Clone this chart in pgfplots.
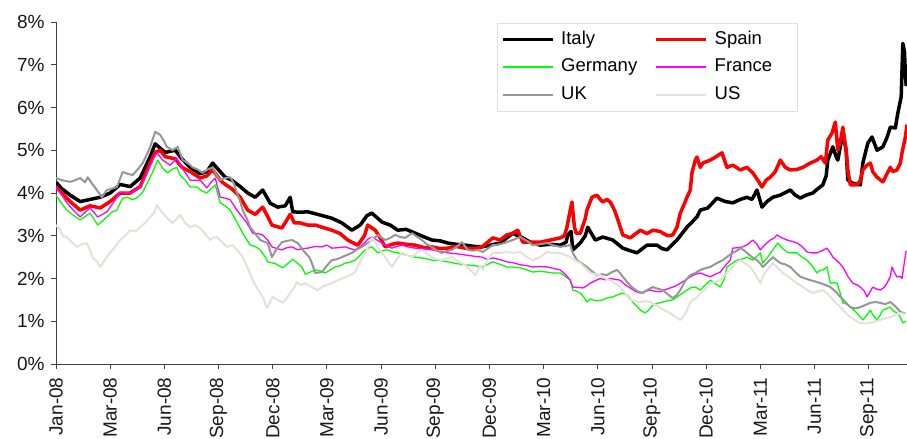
\documentclass[border=0pt]{standalone}
\usepackage{pgfplots}
\pgfplotsset{compat=1.18}
\usepackage{pgfplotstable}
\usepackage{fontspec}
\setmainfont{Liberation Sans}
\definecolor{ukgray}{RGB}{150,150,150}
\definecolor{usgray}{RGB}{228,224,220}
\definecolor{dgreen}{RGB}{0,255,0}
\definecolor{dmagenta}{RGB}{255,0,255}
\definecolor{dred}{RGB}{255,0,0}

\pgfplotstableread{
d v
0 4.25
7 4.1
17 3.95
29 3.8
41 3.85
53 3.9
65 4.0
77 4.2
89 4.15
101 4.35
113 4.85
119 5.15
125 5.05
131 4.95
143 5.0
151 4.8
161 4.6
173 4.45
181 4.5
188 4.7
197 4.5
203 4.37
211 4.3
221 4.15
230 4.0
239 3.9
248 4.07
257 3.76
266 3.67
275 3.7
281 3.9
284 3.56
293 3.55
302 3.56
314 3.5
331 3.41
343 3.3
355 3.13
365 3.25
373 3.47
379 3.53
391 3.32
401 3.25
410 3.13
420 3.15
431 3.06
442 2.97
451 2.9
461 2.88
470 2.83
480 2.8
491 2.78
502 2.75
511 2.74
521 2.78
533 2.83
541 2.95
548 3.06
554 3.0
560 2.95
569 2.85
581 2.78
593 2.8
605 2.78
612 2.85
614 3.02
618 3.1
620 2.67
629 2.83
635 3.0
638 3.2
647 2.9
656 2.97
668 2.9
680 2.71
689 2.65
697 2.6
709 2.78
721 2.78
727 2.7
733 2.67
745 2.9
757 3.2
769 3.44
773 3.6
782 3.65
793 3.88
803 3.8
812 3.77
821 3.85
829 3.9
835 3.85
841 4.07
847 3.67
853 3.8
860 3.9
869 3.95
881 4.07
887 3.95
893 3.88
900 3.95
908 4.0
914 4.1
920 4.19
924 4.4
926 4.77
932 5.08
936 4.85
938 4.77
944 5.4
948 5.0
950 4.3
956 4.23
965 4.19
968 4.7
974 5.17
979 5.31
985 5.0
992 5.08
997 5.3
1001 5.54
1007 5.52
1010 5.87
1014 6.25
1016 7.5
1018 7.3
1019 6.8
1020 6.5
}\italy

\pgfplotstableread{
d v
0 4.14
7 4.0
17 3.8
29 3.6
41 3.7
53 3.65
65 3.8
77 4.0
89 4.0
101 4.15
113 4.7
119 4.95
125 5.0
131 4.85
143 4.8
151 4.6
161 4.5
173 4.35
181 4.4
188 4.55
197 4.3
203 4.2
211 4.1
221 3.9
230 3.6
239 3.5
248 3.67
254 3.45
259 3.25
271 3.18
281 3.5
286 3.3
293 3.3
302 3.25
311 3.25
319 3.2
331 3.13
341 3.05
350 2.9
362 2.78
370 3.0
374 3.25
383 3.13
389 2.95
395 2.74
403 2.8
410 2.83
420 2.8
431 2.78
442 2.72
451 2.74
461 2.7
470 2.71
480 2.75
491 2.71
502 2.7
511 2.74
518 2.85
524 2.95
533 2.9
541 3.02
547 3.05
554 3.13
560 2.85
569 2.85
581 2.85
593 2.9
605 2.95
610 3.0
613 3.2
617 3.6
619 3.79
622 3.2
624 3.06
629 3.06
635 3.4
637 3.6
643 3.9
649 3.95
653 3.85
656 3.79
661 3.85
665 3.79
670 3.6
673 3.44
677 3.2
680 3.02
689 2.95
701 3.13
709 3.05
716 3.13
725 3.1
728 3.06
734 3.0
740 3.02
745 3.2
749 3.53
754 3.75
757 3.9
761 4.07
763 4.47
767 4.77
769 4.84
773 4.6
776 4.7
785 4.77
792 4.85
799 4.94
805 4.6
812 4.65
821 4.54
829 4.6
836 4.47
842 4.3
847 4.14
852 4.3
857 4.37
863 4.5
869 4.77
875 4.6
881 4.54
889 4.55
896 4.6
905 4.7
913 4.77
918 4.85
923 4.7
926 5.24
931 5.4
935 5.66
938 5.0
942 5.3
944 5.54
948 5.0
950 4.54
953 4.19
961 4.19
965 4.3
968 4.54
973 4.65
977 4.7
980 4.5
985 4.37
992 4.26
997 4.45
1001 4.6
1004 4.5
1009 4.54
1013 4.7
1015 4.94
1019 5.3
1021 5.6
}\spain

\pgfplotstableread{
d v
0 3.95
7 3.75
13 3.6
23 3.45
29 3.37
35 3.45
41 3.53
50 3.25
56 3.35
61 3.44
67 3.55
73 3.6
80 3.88
86 3.9
92 3.84
98 3.9
104 4.02
110 4.25
116 4.49
122 4.77
128 4.58
134 4.47
139 4.55
145 4.6
149 4.42
155 4.3
161 4.14
169 4.14
175 4.05
181 4.0
186 4.1
191 4.19
197 3.77
203 3.7
209 3.6
217 3.32
224 3.06
233 2.78
239 2.75
245 2.67
251 2.5
254 2.39
263 2.35
272 2.25
278 2.35
284 2.45
290 2.35
295 2.27
299 2.1
305 2.15
311 2.2
317 2.18
323 2.13
329 2.2
335 2.27
341 2.3
347 2.36
353 2.38
359 2.43
365 2.55
371 2.67
376 2.72
379 2.74
386 2.6
392 2.65
398 2.67
404 2.62
410 2.6
420 2.55
431 2.5
442 2.47
451 2.43
461 2.42
470 2.39
480 2.35
491 2.32
502 2.3
511 2.27
518 2.33
524 2.39
533 2.33
541 2.27
548 2.27
557 2.25
565 2.2
572 2.15
581 2.17
589 2.15
596 2.13
605 2.13
611 2.05
617 1.96
620 1.73
625 1.7
629 1.66
634 1.55
637 1.45
641 1.52
644 1.5
650 1.48
656 1.5
662 1.55
668 1.57
674 1.62
680 1.66
686 1.6
692 1.45
697 1.35
701 1.26
706 1.2
709 1.22
713 1.3
716 1.38
722 1.42
728 1.45
734 1.48
740 1.5
746 1.58
752 1.66
761 1.78
767 1.8
773 1.73
779 1.85
785 1.96
791 1.88
797 1.8
802 2.0
805 2.27
811 2.35
817 2.43
823 2.45
829 2.5
836 2.43
841 2.52
845 2.6
848 2.36
854 2.5
860 2.67
866 2.83
872 2.7
877 2.62
883 2.6
889 2.6
895 2.5
901 2.43
907 2.3
913 2.13
917 2.2
920 2.2
925 2.27
929 1.89
934 1.9
937 1.89
941 1.65
944 1.43
949 1.4
953 1.33
956 1.28
961 1.19
965 1.1
968 1.03
973 1.15
977 1.26
980 1.15
985 1.03
989 1.15
992 1.26
997 1.3
1001 1.33
1004 1.25
1009 1.19
1013 1.1
1016 0.96
1020 1.0
}\germany

\pgfplotstableread{
d v
0 4.12
7 3.95
13 3.77
23 3.55
29 3.44
35 3.55
41 3.65
50 3.44
56 3.5
61 3.56
68 3.75
77 4.02
85 4.0
92 4.02
98 4.1
104 4.23
110 4.5
116 4.77
121 4.94
128 4.77
137 4.65
145 4.82
151 4.58
156 4.45
161 4.3
173 4.3
181 4.12
186 4.25
191 4.35
197 3.9
203 3.88
209 3.84
217 3.6
223 3.45
229 3.3
236 3.06
242 3.05
248 3.02
254 2.9
259 2.74
265 2.7
271 2.67
277 2.72
283 2.74
290 2.67
296 2.7
302 2.71
311 2.75
319 2.74
325 2.78
331 2.71
338 2.72
347 2.74
353 2.7
359 2.67
365 2.75
371 2.85
374 2.92
379 2.97
385 2.9
391 2.83
397 2.76
403 2.71
409 2.75
415 2.78
422 2.74
431 2.71
442 2.69
451 2.67
461 2.63
470 2.6
480 2.58
491 2.55
502 2.52
511 2.5
517 2.45
524 2.48
533 2.44
541 2.39
548 2.37
557 2.32
565 2.3
572 2.27
581 2.28
589 2.27
596 2.24
605 2.2
611 2.1
617 1.96
620 1.8
626 1.79
632 1.78
637 1.83
641 1.89
647 1.95
653 2.0
659 1.97
665 2.0
671 1.98
677 1.96
683 1.85
689 1.78
695 1.7
701 1.66
707 1.7
713 1.73
719 1.7
725 1.69
731 1.74
737 1.78
743 1.82
749 1.89
755 1.96
761 2.04
767 2.1
773 2.13
779 2.08
785 2.04
791 2.1
797 2.15
803 2.3
809 2.43
812 2.71
818 2.72
824 2.74
830 2.8
836 2.9
841 2.8
845 2.67
851 2.8
857 2.9
862 2.95
865 3.02
871 2.95
877 2.9
883 2.87
889 2.83
895 2.75
901 2.62
907 2.6
913 2.6
919 2.65
925 2.71
929 2.6
932 2.5
938 2.4
944 2.27
950 2.05
956 1.89
961 1.85
965 1.8
970 1.7
973 1.57
977 1.7
980 1.8
985 1.75
989 1.73
994 1.8
997 1.89
1001 2.05
1003 2.27
1007 2.1
1009 2.04
1013 2.05
1015 2.0
1018 2.4
1020 2.65
}\france

\pgfplotstableread{
d v
0 4.35
7 4.3
17 4.26
23 4.3
29 4.35
35 4.25
38 4.37
44 4.2
49 4.07
55 3.9
61 4.07
67 4.1
73 4.14
80 4.49
86 4.45
92 4.42
98 4.55
104 4.7
109 4.9
113 5.08
119 5.43
125 5.36
130 5.2
133 5.08
140 5.0
146 5.08
152 4.77
158 4.7
164 4.6
170 4.55
176 4.47
182 4.55
188 4.6
193 4.4
197 4.3
203 4.35
209 4.37
214 4.2
217 4.0
221 3.8
224 3.6
229 3.4
233 3.2
239 3.05
245 2.9
251 2.85
254 2.83
259 2.5
265 2.7
271 2.85
277 2.88
283 2.9
290 2.83
295 2.7
299 2.6
304 2.5
307 2.36
311 2.13
319 2.15
325 2.3
331 2.43
337 2.45
343 2.5
349 2.55
355 2.6
361 2.68
367 2.74
373 2.82
379 2.9
386 3.02
395 2.9
401 2.95
407 3.02
413 2.97
419 2.95
427 3.06
433 2.98
439 2.9
445 2.8
451 2.74
457 2.65
463 2.6
469 2.64
475 2.67
481 2.75
487 2.85
491 2.75
494 2.67
500 2.65
506 2.67
512 2.62
518 2.7
524 2.78
533 2.8
541 2.85
548 2.9
557 2.97
565 2.88
572 2.78
581 2.8
589 2.83
596 2.78
605 2.74
611 2.76
617 2.78
620 2.6
625 2.43
631 2.35
637 2.27
643 2.17
649 2.08
655 2.1
661 2.08
667 2.15
673 2.2
677 2.12
680 2.04
686 1.9
692 1.78
698 1.7
704 1.66
710 1.74
716 1.8
722 1.76
728 1.73
734 1.63
740 1.54
745 1.62
749 1.73
755 1.95
761 2.08
767 2.13
773 2.2
779 2.24
785 2.27
792 2.35
800 2.43
806 2.52
812 2.6
817 2.65
821 2.71
826 2.65
829 2.6
835 2.5
841 2.43
845 2.35
848 2.27
854 2.38
860 2.5
865 2.42
869 2.36
875 2.33
881 2.27
887 2.15
893 2.04
899 2.0
905 1.96
911 1.93
917 1.89
923 1.85
929 1.8
935 1.7
941 1.57
947 1.45
953 1.33
959 1.3
965 1.33
971 1.38
977 1.43
983 1.45
989 1.43
995 1.4
1001 1.45
1007 1.35
1013 1.22
1019 1.18
}\uk

\pgfplotstableread{
d v
0 3.25
5 3.15
8 3.0
13 2.97
19 2.85
25 2.74
31 2.8
37 2.83
41 2.65
44 2.48
49 2.4
53 2.27
59 2.45
65 2.6
71 2.75
77 2.9
83 3.0
89 3.13
95 3.1
101 3.2
107 3.3
113 3.44
118 3.55
121 3.72
125 3.6
128 3.53
134 3.4
140 3.3
145 3.4
149 3.49
155 3.3
161 3.2
167 3.25
173 3.18
179 3.05
185 2.9
188 2.95
193 2.97
199 2.85
205 2.74
212 2.78
218 2.65
224 2.5
230 2.25
236 1.96
242 1.75
248 1.57
253 1.31
257 1.45
260 1.57
266 1.5
272 1.43
277 1.55
281 1.66
286 1.8
289 1.92
293 1.85
299 1.89
305 1.82
311 1.75
314 1.73
319 1.8
325 1.85
331 1.89
337 1.95
343 2.0
349 2.05
355 2.1
359 2.15
365 2.4
371 2.6
376 2.8
379 2.95
383 2.85
386 2.74
391 2.6
395 2.5
400 2.35
403 2.27
409 2.45
415 2.6
421 2.55
427 2.5
433 2.6
439 2.67
445 2.58
451 2.5
457 2.45
463 2.43
469 2.47
475 2.5
482 2.4
491 2.32
497 2.2
503 2.08
509 2.3
512 2.2
518 2.45
524 2.6
533 2.6
541 2.62
548 2.6
557 2.62
565 2.5
572 2.43
581 2.5
589 2.62
596 2.6
605 2.6
611 2.55
617 2.5
623 2.42
629 2.36
635 2.25
641 2.13
647 2.1
653 2.08
659 2.0
665 1.96
671 1.88
677 1.8
683 1.65
689 1.5
695 1.47
701 1.45
707 1.47
713 1.45
719 1.38
725 1.31
731 1.25
737 1.19
743 1.1
749 1.03
754 1.15
757 1.26
761 1.45
764 1.5
769 1.55
773 1.66
779 1.75
785 1.89
791 1.92
797 1.96
803 2.1
809 2.2
815 2.35
821 2.43
827 2.35
833 2.27
839 2.1
845 1.89
848 2.05
853 2.2
860 2.36
866 2.25
872 2.13
878 2.05
884 1.96
890 1.88
896 1.8
902 1.72
908 1.66
914 1.7
920 1.73
925 1.65
929 1.57
935 1.45
941 1.33
947 1.2
953 1.1
959 1.02
965 0.96
971 0.95
977 0.96
983 1.0
989 1.03
995 1.07
1001 1.1
1007 1.15
1013 1.19
1019 1.17
}\us

\begin{document}
\begin{tikzpicture}
\begin{axis}[
  at={(0,0)}, anchor=south west,
  scale only axis, width=851bp, height=342bp,
  xmin=0, xmax=1021, ymin=0, ymax=8,
  axis x line*=bottom, axis y line*=left,
  axis line style={black!75, line width=0.8bp, -},
  tick align=outside, major tick length=5bp,
  tick style={black!75, line width=0.8bp},
  xtick={0,65,130,195,260,325,390,455,520,585,650,715,780,845,910,975},
  xticklabels={Jan-08,Mar-08,Jun-08,Sep-08,Dec-08,Mar-09,Jun-09,Sep-09,Dec-09,Mar-10,Jun-10,Sep-10,Dec-10,Mar-11,Jun-11,Sep-11},
  ytick={0,1,2,3,4,5,6,7,8},
  yticklabels={0\%,1\%,2\%,3\%,4\%,5\%,6\%,7\%,8\%},
  tick label style={font=\fontsize{19bp}{21bp}\selectfont, text=black!90},
  xticklabel style={rotate=90, anchor=east},
  yticklabel style={anchor=east},
  xticklabel shift=5bp,
  yticklabel shift=3bp,
  legend columns=2,
  legend cell align=left,
  legend style={at={(0.518,0.997)}, anchor=north west, draw=black!12, line width=0.75bp,
    inner xsep=4bp, inner ysep=6bp,
    font=\fontsize{18.5bp}{20bp}\selectfont, row sep=7bp,
    nodes={inner sep=1.5bp, text width=77bp, text height=13.5bp, text depth=4bp},
    /tikz/every odd column/.append style={column sep=5bp},
    /tikz/every even column/.append style={column sep=15bp}},
  line join=round,
]
\addlegendimage{legend image code/.code={\draw[black, line width=3.5bp] (0bp,0bp) -- (50bp,0bp);}}
\addlegendentry{Italy}
\addlegendimage{legend image code/.code={\draw[dred, line width=3.5bp] (0bp,0bp) -- (50bp,0bp);}}
\addlegendentry{Spain}
\addlegendimage{legend image code/.code={\draw[dgreen, line width=1.8bp] (0bp,0bp) -- (50bp,0bp);}}
\addlegendentry{Germany}
\addlegendimage{legend image code/.code={\draw[dmagenta, line width=1.8bp] (0bp,0bp) -- (50bp,0bp);}}
\addlegendentry{France}
\addlegendimage{legend image code/.code={\draw[ukgray, line width=2bp] (0bp,0bp) -- (50bp,0bp);}}
\addlegendentry{UK}
\addlegendimage{legend image code/.code={\draw[usgray, line width=2bp] (0bp,0bp) -- (50bp,0bp);}}
\addlegendentry{US}
\addplot[black, line width=3.5bp, forget plot] table[x=d,y=v] {\italy};
\addplot[dred, line width=3.5bp, forget plot] table[x=d,y=v] {\spain};
\addplot[dgreen, line width=1.3bp, forget plot] table[x=d,y=v] {\germany};
\addplot[dmagenta, line width=1.3bp, forget plot] table[x=d,y=v] {\france};
\addplot[ukgray, line width=2bp, forget plot] table[x=d,y=v] {\uk};
\addplot[usgray, line width=2bp, forget plot] table[x=d,y=v] {\us};
\end{axis}
\pgfresetboundingbox
\useasboundingbox (-56bp,-75bp) rectangle (851bp,364bp);
\end{tikzpicture}
\end{document}
